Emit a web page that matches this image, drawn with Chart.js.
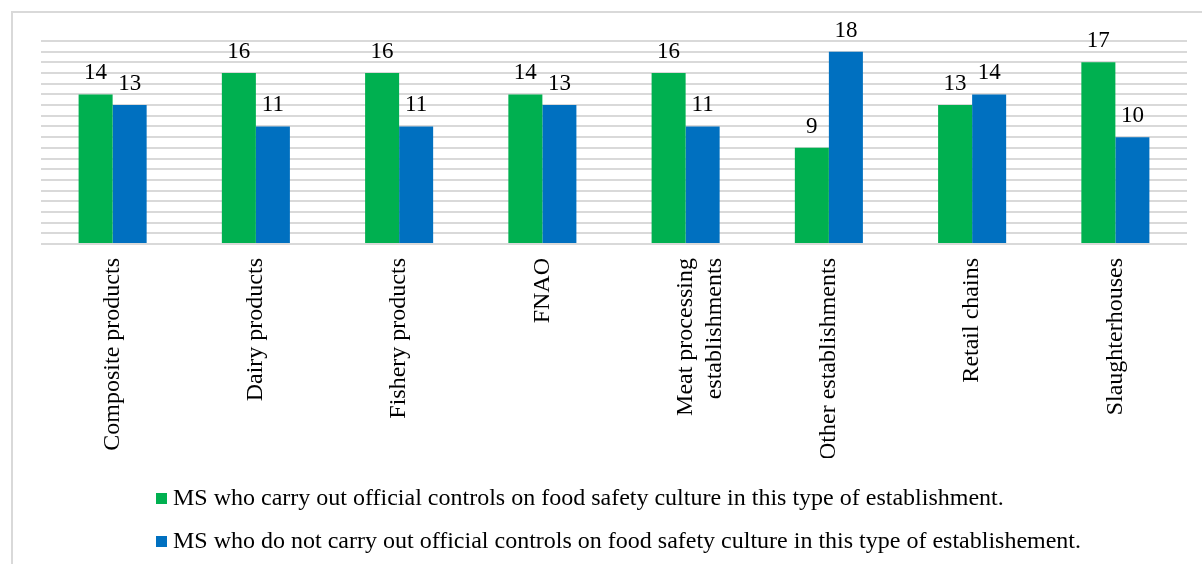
<!DOCTYPE html>
<html>
<head>
<meta charset="utf-8">
<script src="https://cdn.jsdelivr.net/npm/chart.js@4.4.0/dist/chart.umd.min.js"></script>
<style>
    html, body { margin: 0; padding: 0; background: #fff; }
    #frame {
        position: absolute; left: 11px; top: 11px; width: 1191px; height: 553px;
        border-top: 2px solid #d9d9d9; border-left: 2px solid #d9d9d9;
    }
    #wrap { position: absolute; left: 0; top: 0; width: 1189px; height: 470px; }
    #legend {
        position: absolute; left: 143px; top: 469px;
        font-family: "Liberation Serif", "Times New Roman", serif; font-size: 24px; color: #000;
    }
    #legend .item { height: 43px; line-height: 30px; white-space: nowrap; }
    #legend .box { display: inline-block; width: 11px; height: 11px; margin-right: 6px; vertical-align: 1px; }
</style>
</head>
<body>
<div id="frame">
    <div id="wrap"><canvas id="myChart"></canvas></div>
    <div id="legend"></div>
</div>
<script>
var categorias = ['Composite products', 'Dairy products', 'Fishery products', 'FNAO',
    ['Meat processing', 'establishments'], 'Other establishments', 'Retail chains', 'Slaughterhouses'];
var serie_si = [14, 16, 16, 14, 16, 9, 13, 17];
var serie_no = [13, 11, 11, 13, 11, 18, 14, 10];
var nombre_si = 'MS who carry out official controls on food safety culture in this type of establishment.';
var nombre_no = 'MS who do not carry out official controls on food safety culture in this type of establishement.';
var color_si = '#00b050';
var color_no = '#0070c0';

var fuente = '"Liberation Serif", "Times New Roman", serif';

// numeros encima de cada barra
var etiquetas = {
    id: 'etiquetas',
    afterDatasetsDraw: function(chart) {
        var ctx = chart.ctx;
        ctx.save();
        ctx.font = '23px ' + fuente;
        ctx.fillStyle = '#000';
        ctx.textAlign = 'center';
        ctx.textBaseline = 'alphabetic';
        chart.data.datasets.forEach(function(ds, i) {
            chart.getDatasetMeta(i).data.forEach(function(bar, j) {
                ctx.fillText(ds.data[j], bar.x, bar.y - 15);
            });
        });
        ctx.restore();
    }
};

// leyenda en html, una fila por serie
var leyenda = {
    id: 'leyenda',
    afterUpdate: function(chart) {
        var cont = document.getElementById('legend');
        cont.innerHTML = '';
        chart.data.datasets.forEach(function(ds) {
            var fila = document.createElement('div');
            fila.className = 'item';
            var caja = document.createElement('span');
            caja.className = 'box';
            caja.style.background = ds.backgroundColor;
            fila.appendChild(caja);
            fila.appendChild(document.createTextNode(ds.label));
            cont.appendChild(fila);
        });
    }
};

var ctx = document.getElementById('myChart').getContext('2d');
var myChart = new Chart(ctx, {
    type: 'bar',
    data: {
        labels: categorias,
        datasets: [{
            label: nombre_si,
            backgroundColor: color_si,
            data: serie_si
        }, {
            label: nombre_no,
            backgroundColor: color_no,
            data: serie_no
        }]
    },
    options: {
        responsive: true,
        maintainAspectRatio: false,
        animation: false,
        datasets: { bar: { categoryPercentage: 0.475, barPercentage: 1 } },
        layout: { padding: { top: 28, left: 28, right: 15, bottom: 25 } },
        plugins: { legend: { display: false }, tooltip: { enabled: false } },
        scales: {
            x: {
                grid: { display: false, drawTicks: false },
                border: { display: false },
                afterFit: function(scale) { scale.height = 214; },
                ticks: {
                    minRotation: 90, maxRotation: 90, padding: 14,
                    color: '#000', font: { family: fuente, size: 24 }
                }
            },
            y: {
                min: 0, max: 19,
                ticks: { display: false, stepSize: 1 },
                border: { display: false },
                grid: { color: '#d9d9d9', lineWidth: 2, drawTicks: false }
            }
        }
    },
    plugins: [etiquetas, leyenda]
});
</script>
</body>
</html>
